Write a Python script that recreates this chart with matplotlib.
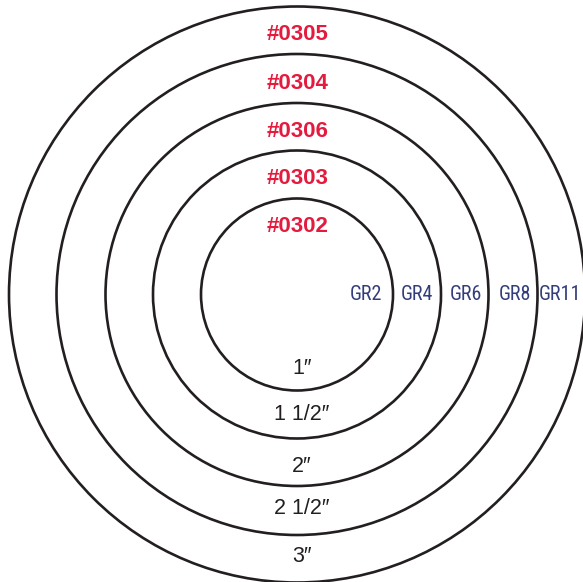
import matplotlib
matplotlib.use("Agg")
import matplotlib.pyplot as plt
from matplotlib.patches import Circle

# ring data (pixel units, image coords)
ring_radii = [96, 144, 191.5, 240.5, 288]
part_numbers = ["#0302", "#0303", "#0306", "#0304", "#0305"]
part_y = [227, 179, 131.5, 83.5, 34.5]
grades = ["GR2", "GR4", "GR6", "GR8", "GR11"]
grade_x = [366, 417, 466, 515, 560]
sizes = ["1\u2033", "1 1/2\u2033", "2\u2033", "2 1/2\u2033", "3\u2033"]
size_y = [369, 415, 466, 509, 556]

cx, cy = 297, 294.5
W, H = 583, 582

fig = plt.figure(figsize=(W / 100, H / 100), dpi=100)
ax = fig.add_axes([0, 0, 1, 1])
ax.set_xlim(0, W)
ax.set_ylim(H, 0)
ax.set_aspect("equal")
ax.axis("off")

for r in ring_radii:
    ax.add_patch(Circle((cx, cy), r, fill=False, edgecolor="#231F20", linewidth=1.9))

red = "#E31B3F"
blue = "#333D7B"
for lab, y in zip(part_numbers, part_y):
    ax.text(cx + 1, y, lab, color=red, fontsize=16, fontweight="bold",
            family=["Liberation Sans", "DejaVu Sans"], ha="center", va="center")

for lab, x in zip(grades, grade_x):
    ax.text(x, 295, lab, color=blue, fontsize=14.5, fontstretch="condensed",
            family=["Roboto Condensed", "Liberation Sans", "DejaVu Sans"],
            ha="center", va="center")

for lab, y in zip(sizes, size_y):
    ax.text(cx + 5, y, lab, color="#231F20", fontsize=15.5,
            family=["Liberation Sans", "DejaVu Sans"], ha="center", va="center")

fig.savefig("out.png", dpi=100)
